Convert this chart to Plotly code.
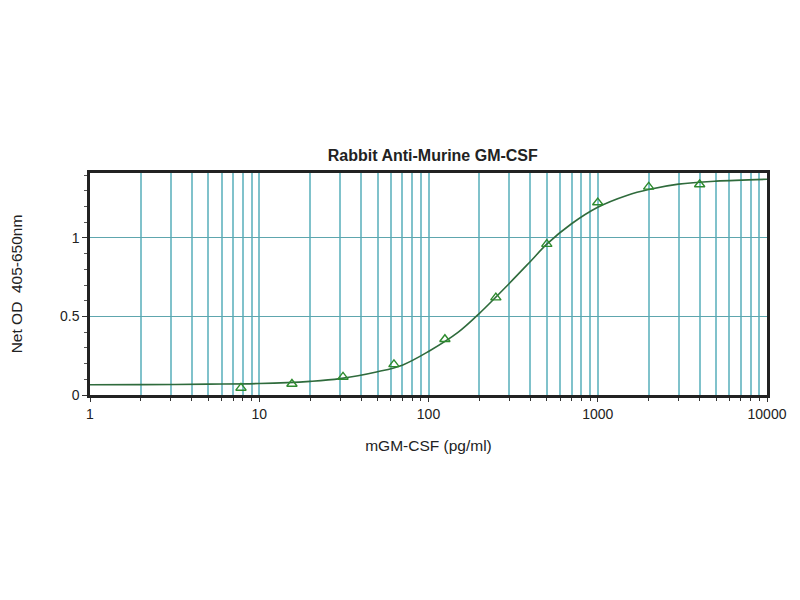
import plotly.graph_objects as go

# Standards (triangles)
conc = [7.8, 15.6, 31.25, 62.5, 125, 250, 500, 1000, 2000, 4000]
od = [0.045, 0.07, 0.115, 0.195, 0.355, 0.62, 0.96, 1.225, 1.325, 1.34]

# Fitted curve, read at points along the drawn line
curve_x = [1, 2, 5, 10, 20, 30, 50, 70, 100, 150, 200, 300, 400, 500,
           700, 1000, 1500, 2000, 3000, 5000, 10000]
curve_y = [0.065, 0.066, 0.069, 0.073, 0.087, 0.104, 0.148, 0.19, 0.277,
           0.40, 0.52, 0.71, 0.85, 0.96, 1.09, 1.195, 1.272, 1.308, 1.342,
           1.361, 1.373]

x_ticks = [1, 10, 100, 1000, 10000]
y_ticks = [0, 0.5, 1]

font = "Liberation Sans, Arial, sans-serif"
grid_v = "#80c2cb"
grid_h = "#5ea6ae"

fig = go.Figure()
fig.add_trace(go.Scatter(
    x=curve_x, y=curve_y, mode="lines", line_shape="spline",
    line=dict(color="#2f6b3c", width=1.6), hoverinfo="skip",
))
fig.add_trace(go.Scatter(
    x=conc, y=od, mode="markers",
    marker=dict(symbol="triangle-up-open", size=9, color="#2e8b2e",
                line=dict(width=1.4)),
))

fig.update_layout(
    width=800, height=600,
    margin=dict(l=82, r=41, t=165, b=213),
    paper_bgcolor="white", plot_bgcolor="white",
    showlegend=False,
    font=dict(family=font, size=14, color="#222"),
    title=dict(text="<b>Rabbit Anti-Murine GM-CSF</b>", x=0.531, xanchor="center",
               y=0.755, yanchor="middle", font=dict(size=16, color="#222")),
)
fig.update_xaxes(
    type="log", range=[0, 4], tickvals=x_ticks, ticktext=[str(v) for v in x_ticks],
    showgrid=True, gridcolor=grid_v, gridwidth=1.5,
    minor=dict(dtick="D1", showgrid=True, gridcolor=grid_v, gridwidth=1.5,
               ticks="outside", ticklen=3, tickcolor="#333"),
    ticks="outside", ticklen=4, tickcolor="#333",
    showline=True, linecolor="#222", linewidth=2.5, mirror=True,
    zeroline=False, automargin=False,
    title=dict(text="mGM-CSF (pg/ml)", standoff=20, font=dict(size=15.5)),
)
fig.update_yaxes(
    range=[0, 1.413], tickvals=y_ticks, ticktext=["0", "0.5", "1"],
    showgrid=True, gridcolor=grid_h, gridwidth=1.3,
    minor=dict(dtick=0.1, ticks="outside", ticklen=3, tickcolor="#555", showgrid=False),
    ticks="outside", ticklen=5, tickcolor="#333",
    showline=True, linecolor="#222", linewidth=2.5, mirror=True,
    zeroline=False, automargin=False,
    title=dict(text="Net OD  405-650nm", standoff=35, font=dict(size=15.5)),
)

fig.write_html("out.html")
